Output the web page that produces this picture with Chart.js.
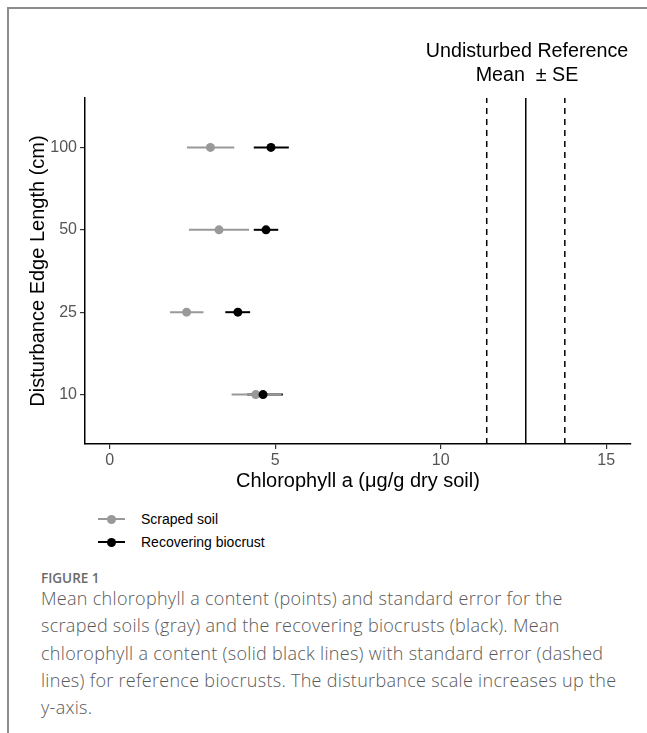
<!DOCTYPE html>
<html>
<head>
<meta charset="utf-8">
<script src="https://cdn.jsdelivr.net/npm/chart.js@4.4.1/dist/chart.umd.min.js"></script>
<style>
  html, body { margin: 0; padding: 0; background: #fff; }
  #page { position: relative; width: 647px; height: 733px; overflow: hidden; background: #fff; }
  #frameLeft { position: absolute; left: 7px; top: 7px; width: 2px; height: 726px; background: #8c8c8c; }
  #frameTop { position: absolute; left: 7px; top: 7px; width: 640px; height: 2px; background: #8c8c8c; }
  #chartWrap { position: absolute; left: 0; top: 0; width: 647px; height: 500px; }
  #refLabel { position: absolute; left: 377px; top: 38px; width: 300px; text-align: center;
              font-family: "Liberation Sans", Arial, Helvetica, sans-serif; font-size: 19.7px; line-height: 24px; color: #000; }
  .leg { position: absolute; left: 98px; height: 16px; font-family: "Liberation Sans", Arial, sans-serif; font-size: 14px; color: #000; }
  .leg .ln { position: absolute; left: 0; top: 7px; width: 27px; height: 2px; }
  .leg .dt { position: absolute; left: 9px; top: 3.5px; width: 9px; height: 9px; border-radius: 50%; }
  .leg .tx { position: absolute; left: 43px; top: -1px; white-space: nowrap; line-height: 18px; }
  #figLabel { position: absolute; left: 41px; top: 568px; font-family: "Open Sans", "Noto Sans", sans-serif;
              font-weight: 600; font-size: 13.5px; color: #6b6b6b; line-height: 20px; }
  #caption { position: absolute; left: 41px; top: 585px; font-family: "Open Sans", "Noto Sans", sans-serif;
             font-weight: 300; font-size: 18px; letter-spacing: 0.3px; color: #595959; line-height: 27.3px; white-space: nowrap; }
</style>
</head>
<body>
<div id="page">
  <div id="frameLeft"></div>
  <div id="frameTop"></div>
  <div id="chartWrap"><canvas id="c" width="647" height="500"></canvas></div>
  <div id="refLabel">Undisturbed Reference<br>Mean&nbsp; ± SE</div>
  <div class="leg" style="top:511px;"><span class="ln" style="background:#999999"></span><span class="dt" style="background:#999999"></span><span class="tx">Scraped soil</span></div>
  <div class="leg" style="top:534px;"><span class="ln" style="background:#000"></span><span class="dt" style="background:#000"></span><span class="tx">Recovering biocrust</span></div>
  <div id="figLabel">FIGURE 1</div>
  <div id="caption">Mean chlorophyll a content (points) and standard error for the<br>scraped soils (gray) and the recovering biocrusts (black). Mean<br>chlorophyll a content (solid black lines) with standard error (dashed<br>lines) for reference biocrusts. The disturbance scale increases up the<br>y-axis.</div>
</div>
<script>
// Categories (bottom to top)
const edgeLengths = ['10', '25', '50', '100'];
// Scraped soil
const scrapedMean = [4.41, 2.32, 3.30, 3.04];
const scrapedLow  = [3.68, 1.82, 2.39, 2.33];
const scrapedHigh = [5.19, 2.83, 4.21, 3.76];
// Recovering biocrust
const crustMean = [4.63, 3.87, 4.72, 4.87];
const crustLow  = [4.15, 3.49, 4.35, 4.35];
const crustHigh = [5.23, 4.24, 5.09, 5.41];
// Undisturbed reference mean and +/- SE
const refMean = 12.57;
const refLow = 11.39;
const refHigh = 13.75;
// X tick labels
const xTicks = [0, 5, 10, 15];

const GRAY = '#999999';
const BLACK = '#000000';
const yMin = -0.6, yMax = edgeLengths.length - 1 + 0.6;

const datasets = [];
datasets.push({
  label: 'Recovering biocrust', data: crustMean.map((v, i) => ({x: v, y: i})),
  backgroundColor: BLACK, borderColor: BLACK, pointRadius: 4.5, borderWidth: 0, order: 0, showLine: false
});
datasets.push({
  label: 'Scraped soil', data: scrapedMean.map((v, i) => ({x: v, y: i})),
  backgroundColor: GRAY, borderColor: GRAY, pointRadius: 4.5, borderWidth: 0, order: 1, showLine: false
});
edgeLengths.forEach((c, i) => {
  datasets.push({
    label: 'scraped-se-' + c, data: [{x: scrapedLow[i], y: i}, {x: scrapedHigh[i], y: i}],
    borderColor: GRAY, borderWidth: 2, pointRadius: 0, showLine: true, order: 2
  });
  datasets.push({
    label: 'crust-se-' + c, data: [{x: crustLow[i], y: i}, {x: crustHigh[i], y: i}],
    borderColor: BLACK, borderWidth: 2, pointRadius: 0, showLine: true, order: 3
  });
});
[[refLow, true], [refMean, false], [refHigh, true]].forEach(([v, dashed]) => {
  datasets.push({
    label: 'ref', data: [{x: v, y: yMin}, {x: v, y: yMax}],
    borderColor: BLACK, borderWidth: 1.5, borderDash: dashed ? [6, 5] : [], pointRadius: 0, showLine: true, order: 4
  });
});

const FONT = '"Liberation Sans", Arial, Helvetica, sans-serif';

new Chart(document.getElementById('c'), {
  type: 'scatter',
  data: { datasets },
  options: {
    responsive: false,
    animation: false,
    devicePixelRatio: 1,
    layout: { padding: { top: 98, right: 16, left: 0, bottom: 0 } },
    plugins: { legend: { display: false }, tooltip: { enabled: false } },
    scales: {
      x: {
        type: 'linear', min: -0.75, max: 15.75,
        afterBuildTicks: s => { s.ticks = xTicks.map(v => ({value: v})); },
        afterFit: s => { s.height = 56; },
        grid: { drawOnChartArea: false, drawTicks: true, tickLength: 5, color: '#333', lineWidth: 1.2 },
        border: { display: true, color: '#000', width: 1.5 },
        ticks: { font: { family: FONT, size: 16 }, color: '#555555', padding: 2, maxRotation: 0,
                 autoSkip: false, callback: v => String(v) },
        title: { display: true, text: 'Chlorophyll a (μg/g dry soil)', color: '#000',
                 font: { family: FONT, size: 20, lineHeight: 1.2 }, padding: { top: 0, bottom: 7 } }
      },
      y: {
        type: 'linear', min: yMin, max: yMax,
        afterBuildTicks: s => { s.ticks = edgeLengths.map((_, i) => ({value: i})); },
        afterFit: s => { s.width = 85; },
        grid: { drawOnChartArea: false, drawTicks: true, tickLength: 5, color: '#333', lineWidth: 1.2 },
        border: { display: true, color: '#000', width: 1.5 },
        ticks: { font: { family: FONT, size: 16 }, color: '#555555', padding: 3, autoSkip: false,
                 callback: v => edgeLengths[v] },
        title: { display: true, text: 'Disturbance Edge Length (cm)', color: '#000',
                 font: { family: FONT, size: 20, lineHeight: 1.2 }, padding: { top: 26, bottom: 0 } }
      }
    }
  }
});
</script>
</body>
</html>
